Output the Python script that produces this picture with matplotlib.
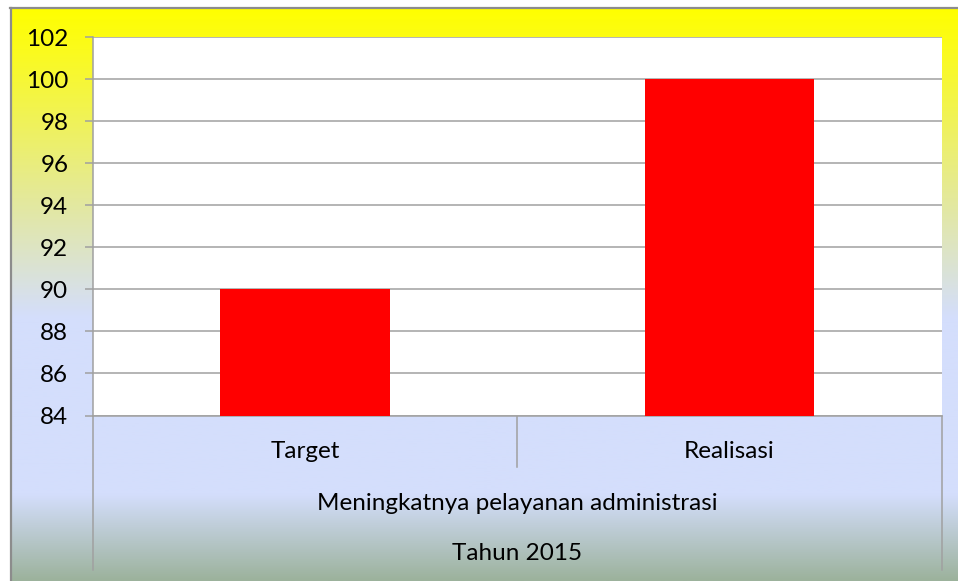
import numpy as np
import matplotlib.pyplot as plt
from matplotlib.colors import LinearSegmentedColormap
from matplotlib.lines import Line2D

categories = ["Target", "Realisasi"]
values = [90, 100]
group_label = "Meningkatnya pelayanan administrasi"
year_label = "Tahun 2015"
y_ticks = list(range(84, 103, 2))

plt.rcParams['font.family'] = ['Lato', 'DejaVu Sans']
FS = 17.5

W, H = 958, 581
fig = plt.figure(figsize=(W / 100, H / 100), dpi=100, facecolor="white")

# background gradient (yellow -> pale blue -> grey green)
bg = fig.add_axes([10 / W, 0, (W - 10) / W, (H - 8) / H], zorder=0)
grad = LinearSegmentedColormap.from_list("bg", [
    (0.00, "#ffff00"),
    (0.07, "#fbfb1c"),
    (0.33, "#e4e99a"),
    (0.54, "#d4defc"),
    (0.85, "#d4defc"),
    (1.00, "#9cb29c"),
])
bg.imshow(np.linspace(0, 1, 256).reshape(-1, 1), aspect="auto", cmap=grad,
          extent=[0, 1, 0, 1], origin="upper")
bg.set_axis_off()

# outer border
fig.add_artist(Line2D([10.5 / W, 10.5 / W], [0, 1 - 7.5 / H], transform=fig.transFigure,
                      color="#8c8c8c", lw=1.6))
fig.add_artist(Line2D([10 / W, 1], [1 - 7.5 / H, 1 - 7.5 / H], transform=fig.transFigure,
                      color="#8c8c8c", lw=1.6))

x0, x1 = 93, 941.7
y_top, y_bot = 37, 415.5
ax = fig.add_axes([x0 / W, 1 - y_bot / H, (x1 - x0) / W, (y_bot - y_top) / H], zorder=2)
ax.set_facecolor("white")

xs = np.arange(len(categories))
ax.bar(xs, values, width=0.4, color="#ff0000", zorder=3)
ax.set_xlim(-0.5, len(categories) - 0.5)
ax.set_ylim(84, 102)
ax.set_yticks(y_ticks)
ax.yaxis.grid(True, color="#a0a0a0", lw=1.1, zorder=1)
ax.tick_params(axis="y", length=5.8, width=1.1, color="#a0a0a0", labelsize=FS, pad=12)
ax.set_xticks([])
for side in ["top", "right"]:
    ax.spines[side].set_visible(False)
for side in ["left", "bottom"]:
    ax.spines[side].set_color("#a0a0a0")
    ax.spines[side].set_linewidth(1.1)

# multi-level category axis drawn below the plot
def fy(py):
    return 1 - py / H

def fx(px):
    return px / W

line_kw = dict(transform=fig.transFigure, color="#a0a0a0", lw=1.1)
fig.add_artist(Line2D([fx(x0), fx(x0)], [fy(y_bot), fy(570)], **line_kw))
fig.add_artist(Line2D([fx(x1), fx(x1)], [fy(y_bot), fy(570)], **line_kw))
mid = (x0 + x1) / 2
fig.add_artist(Line2D([fx(mid), fx(mid)], [fy(y_bot), fy(467)], **line_kw))

cat_w = (x1 - x0) / len(categories)
for i, name in enumerate(categories):
    fig.text(fx(x0 + cat_w * (i + 0.5)), fy(452), name, ha="center", va="center", fontsize=FS)
fig.text(fx(mid), fy(503), group_label, ha="center", va="center", fontsize=FS)
fig.text(fx(mid), fy(553), year_label, ha="center", va="center", fontsize=FS)

fig.savefig("out.png", dpi=100, facecolor="white")
